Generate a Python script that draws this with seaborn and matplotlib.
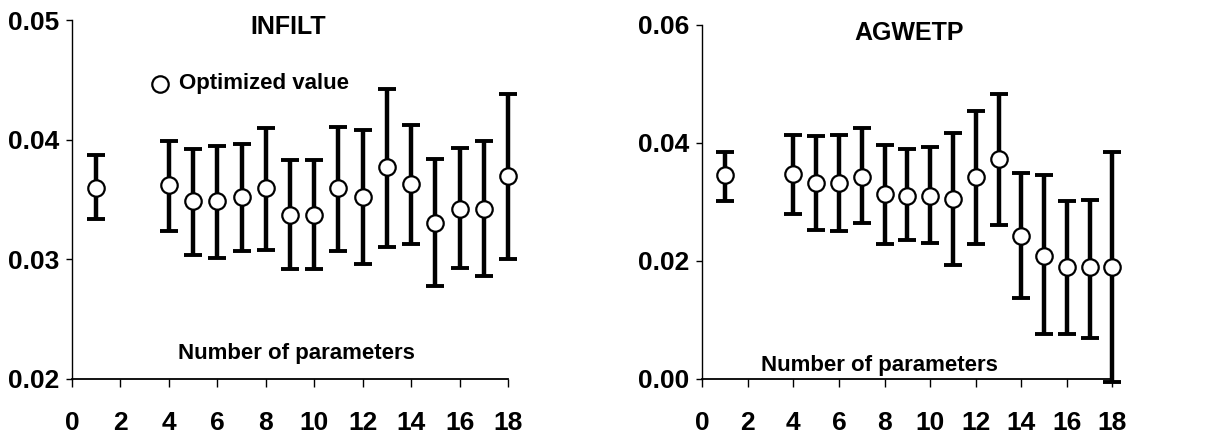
import matplotlib
matplotlib.use("Agg")
import matplotlib.pyplot as plt
import seaborn as sns
import numpy as np
import pandas as pd

# Number of calibrated parameters
n_params = [1, 4, 5, 6, 7, 8, 9, 10, 11, 12, 13, 14, 15, 16, 17, 18]

# INFILT: optimized value with lower/upper bounds
infilt_opt = [0.0360, 0.0362, 0.0349, 0.0349, 0.0352, 0.0360, 0.0337, 0.0337,
              0.0360, 0.0352, 0.0377, 0.0363, 0.0330, 0.0342, 0.0342, 0.0370]
infilt_low = [0.0334, 0.0324, 0.0304, 0.0301, 0.0307, 0.0308, 0.0292, 0.0292,
              0.0307, 0.0296, 0.0310, 0.0313, 0.0278, 0.0293, 0.0286, 0.0300]
infilt_up = [0.0387, 0.0399, 0.0392, 0.0395, 0.0396, 0.0410, 0.0383, 0.0383,
             0.0411, 0.0408, 0.0442, 0.0412, 0.0384, 0.0393, 0.0399, 0.0438]

# AGWETP: optimized value with lower/upper bounds
agwetp_opt = [0.0345, 0.0347, 0.0332, 0.0332, 0.0343, 0.0314, 0.0310, 0.0310,
              0.0305, 0.0343, 0.0372, 0.0243, 0.0209, 0.0189, 0.0189, 0.0189]
agwetp_low = [0.0302, 0.0279, 0.0253, 0.0250, 0.0265, 0.0229, 0.0236, 0.0231,
              0.0193, 0.0229, 0.0260, 0.0137, 0.0076, 0.0076, 0.0069, -0.0005]
agwetp_up = [0.0385, 0.0413, 0.0411, 0.0413, 0.0426, 0.0397, 0.0389, 0.0393,
             0.0416, 0.0454, 0.0483, 0.0349, 0.0345, 0.0302, 0.0303, 0.0384]

x_ticks = [0, 2, 4, 6, 8, 10, 12, 14, 16, 18]
infilt_yticks = [0.02, 0.03, 0.04, 0.05]
agwetp_yticks = [0.00, 0.02, 0.04, 0.06]

sns.set_theme(style="ticks")
plt.rcParams["font.family"] = ["Liberation Sans", "DejaVu Sans"]
plt.rcParams["font.weight"] = "bold"
plt.rcParams["text.color"] = "black"
plt.rcParams["xtick.color"] = "black"
plt.rcParams["ytick.color"] = "black"
plt.rcParams["axes.edgecolor"] = "black"

fig = plt.figure(figsize=(12.32, 4.37), dpi=100)
ax1 = fig.add_axes([0.0584, 0.133, 0.354, 0.821])
ax2 = fig.add_axes([0.570, 0.133, 0.333, 0.810])


def draw_panel(ax, opt, low, up, yticks, title, title_xy, xlabel_xy):
    df = pd.DataFrame({"n": n_params, "opt": opt, "low": low, "up": up})
    yerr = np.vstack([df["opt"] - df["low"], df["up"] - df["opt"]])
    ax.errorbar(df["n"], df["opt"], yerr=yerr, fmt="none", ecolor="black",
                elinewidth=3.2, capsize=6.5, capthick=2.8, clip_on=False,
                zorder=2)
    sns.scatterplot(data=df, x="n", y="opt", ax=ax, marker="o", s=140,
                    facecolor="white", edgecolor="black", linewidth=1.6,
                    clip_on=False, zorder=3, label="Optimized value")
    ax.set_xlim(0, 18)
    ax.set_ylim(yticks[0], yticks[-1])
    ax.set_xticks(x_ticks)
    ax.set_yticks(yticks)
    ax.set_yticklabels(["{:.2f}".format(v) for v in yticks])
    ax.tick_params(axis="x", direction="out", length=6, width=1, pad=17,
                   labelsize=19, labelcolor="black")
    ax.tick_params(axis="y", direction="out", length=4, width=1, pad=5,
                   labelsize=19, labelcolor="black")
    for lab in ax.get_xticklabels() + ax.get_yticklabels():
        lab.set_fontweight("bold")
    sns.despine(ax=ax)
    ax.spines["left"].set_linewidth(1)
    ax.spines["bottom"].set_linewidth(1.3)
    ax.set_xlabel("")
    ax.set_ylabel("")
    ax.text(title_xy[0], title_xy[1], title, transform=ax.transAxes,
            ha="center", va="center", fontsize=18, fontweight="bold",
            color="black")
    ax.text(xlabel_xy[0], xlabel_xy[1], "Number of parameters",
            transform=ax.transAxes, ha="center", va="center",
            fontsize=16, fontweight="bold", color="black")


draw_panel(ax1, infilt_opt, infilt_low, infilt_up, infilt_yticks,
           "INFILT", (0.495, 0.982), (0.515, 0.072))
draw_panel(ax2, agwetp_opt, agwetp_low, agwetp_up, agwetp_yticks,
           "AGWETP", (0.505, 0.978), (0.432, 0.037))

ax1.legend(loc="center left", bbox_to_anchor=(0.172, 0.822), frameon=False,
           handletextpad=0.25, borderaxespad=0, borderpad=0, handlelength=1.2,
           prop={"size": 16, "weight": "bold"}, labelcolor="black")
if ax2.get_legend():
    ax2.get_legend().remove()

fig.savefig("out.png", dpi=100)
